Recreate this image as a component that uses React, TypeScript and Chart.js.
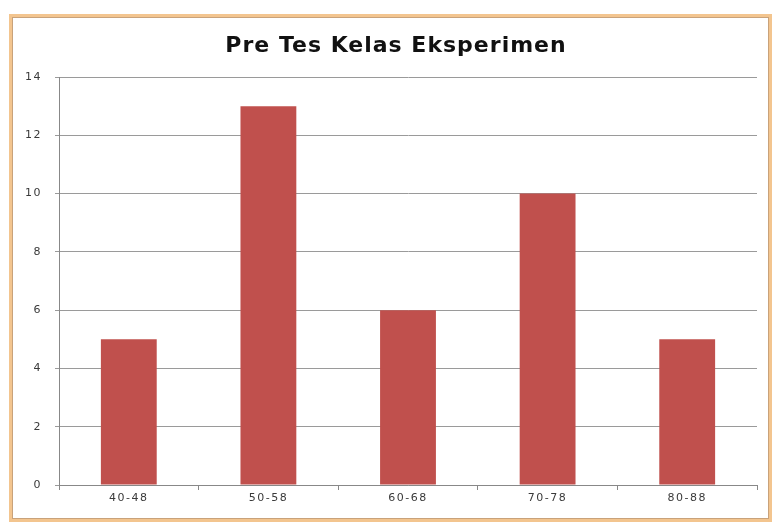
import React, { useEffect, useRef } from "react";
import { Chart, registerables } from "chart.js";

Chart.register(...registerables);

const title = "Pre Tes Kelas Eksperimen";
const categories = ["40-48", "50-58", "60-68", "70-78", "80-88"];
const values = [5, 13, 6, 10, 5];
const yTicks = [0, 2, 4, 6, 8, 10, 12, 14];

const framePlugin = {
  id: "frame",
  beforeDraw(chart: any) {
    const ctx = chart.ctx;
    ctx.save();
    ctx.fillStyle = "#ffffff";
    ctx.fillRect(0, 0, chart.width, chart.height);
    ctx.strokeStyle = "#f3c58f";
    ctx.lineWidth = 3;
    ctx.strokeRect(10.5, 15.5, 760, 505);
    ctx.strokeStyle = "#c9a27a";
    ctx.lineWidth = 1;
    ctx.strokeRect(12.5, 17.5, 756, 501);
    // title
    (ctx as any).letterSpacing = "1px";
    ctx.fillStyle = "#111";
    ctx.font = "bold 22px 'DejaVu Sans'";
    ctx.textAlign = "center";
    ctx.textBaseline = "middle";
    ctx.fillText(title, 396, 46);
    ctx.restore();
    (ctx as any).letterSpacing = "1.5px";
  },
  afterDraw(chart: any) {
    (chart.ctx as any).letterSpacing = "0px";
  },
};

export default function App() {
  const ref = useRef<HTMLCanvasElement | null>(null);
  useEffect(() => {
    document.body.style.margin = "0";
    const chart = new Chart(ref.current as HTMLCanvasElement, {
      type: "bar",
      data: {
        labels: categories,
        datasets: [
          {
            data: values,
            backgroundColor: "#c0504d",
            borderWidth: 0,
            barPercentage: 0.4,
            categoryPercentage: 1,
          },
        ],
      },
      options: {
        responsive: false,
        animation: false,
        layout: { padding: { left: 10, right: 18, top: 77, bottom: 16 } },
        plugins: {
          legend: { display: false },
          tooltip: { enabled: false },
          title: { display: false },
        },
        scales: {
          x: {
            afterFit(scale: any) {
              scale.height = 25;
            },
            grid: {
              drawOnChartArea: false,
              drawTicks: true,
              tickLength: 5,
              color: "#888",
              offset: true,
            },
            border: { display: true, color: "#888", width: 1 },
            ticks: {
              color: "#3a3a3a",
              font: { family: "DejaVu Sans", size: 11 },
              padding: 2,
            },
          },
          y: {
            min: 0,
            max: 14,
            afterFit(scale: any) {
              scale.width = 49;
            },
            afterBuildTicks(scale: any) {
              scale.ticks = yTicks.map((v) => ({ value: v }));
            },
            grid: {
              color: "#9a9a9a",
              tickLength: 4,
              lineWidth: 1,
            },
            border: { display: true, color: "#888", width: 1 },
            ticks: {
              color: "#3a3a3a",
              font: { family: "DejaVu Sans", size: 11 },
              padding: 13,
            },
          },
        },
      },
      plugins: [framePlugin],
    });
    return () => chart.destroy();
  }, []);
  return (
    <div style={{ position: "fixed", left: 0, top: 0, width: 775, height: 526 }}>
      <canvas ref={ref} width={775} height={526} />
    </div>
  );
}
